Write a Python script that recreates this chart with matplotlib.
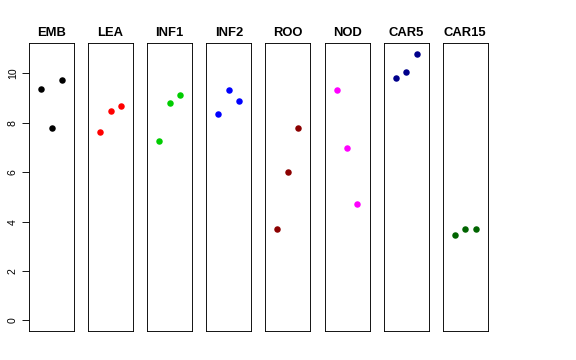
import numpy as np
import matplotlib
matplotlib.use('Agg')
import matplotlib.pyplot as plt

plt.rcParams['font.family'] = ['Liberation Sans', 'DejaVu Sans']

tissues = ['EMB', 'LEA', 'INF1', 'INF2', 'ROO', 'NOD', 'CAR5', 'CAR15']
colors = ['black', 'red', '#00CD00', 'blue', '#8B0000', 'magenta', '#00008B', '#006400']
reps = [1, 2, 3]
vals = [
    [9.39, 7.78, 9.74],
    [7.64, 8.46, 8.67],
    [7.28, 8.79, 9.11],
    [8.34, 9.33, 8.88],
    [3.72, 6.00, 7.78],
    [9.33, 6.97, 4.72],
    [9.80, 10.04, 10.79],
    [3.44, 3.69, 3.69],
]
yticks = [0, 2, 4, 6, 8, 10]

fig = plt.figure(figsize=(8, 5), dpi=72)
W, H = 576.0, 360.0
left0 = 29.0
pw = 45.0
step = 59.1
bottom = 331.0
top = 43.3

ymax = max(max(v) for v in vals)
yext = 0.04 * ymax

for i, name in enumerate(tissues):
    x0 = left0 + i * step
    ax = fig.add_axes([x0 / W, 1 - bottom / H, pw / W, (bottom - top) / H])
    ax.scatter(reps, vals[i], s=42, color=colors[i], linewidths=0, zorder=3)
    ax.set_xlim(-0.16, 4.16)
    ax.set_ylim(-yext, ymax + yext)
    ax.set_xticks([])
    ax.set_title(name, fontsize=13, fontweight='bold', pad=7)
    for sp in ax.spines.values():
        sp.set_linewidth(0.9)
    if i == 0:
        ax.set_yticks(yticks)
        ax.set_yticklabels([str(t) for t in yticks], rotation=90, va='center', fontsize=10.5)
        ax.tick_params(axis='y', length=7, width=0.9, pad=4)
    else:
        ax.set_yticks([])

fig.savefig('out.png', dpi=72)
